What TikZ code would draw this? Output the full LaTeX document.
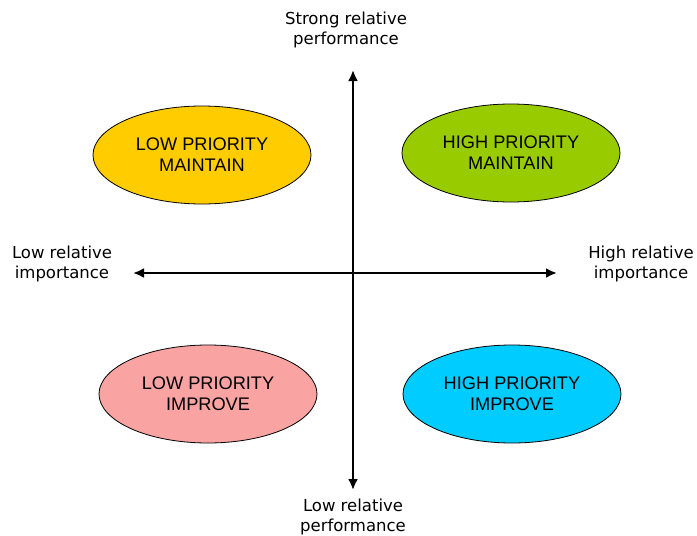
\documentclass[tikz,border=0pt]{standalone}
\usepackage{fontspec}
\setmainfont{Liberation Sans}
\newfontfamily\axisfont{DejaVu Sans}
\usetikzlibrary{shapes.geometric,arrows.meta}
\definecolor{lowmaint}{HTML}{FFCC00}
\definecolor{highmaint}{HTML}{99CC00}
\definecolor{lowimp}{HTML}{F9A3A3}
\definecolor{highimp}{HTML}{00CCFF}
\begin{document}
\begin{tikzpicture}[x=1pt,y=-1pt,
  quad/.style={ellipse,draw=black,line width=0.8pt,minimum width=218pt,minimum height=98pt,
    inner sep=0pt,align=center,font=\fontsize{18.2}{21}\selectfont},
  axislabel/.style={align=center,inner sep=0pt,font=\axisfont\fontsize{16.5}{20}\selectfont},
  axisline/.style={line width=2.5pt,-{Latex[length=11pt,width=10pt]}}]
\useasboundingbox (0,0) rectangle (697,536);
% four quadrant ellipses
\node[quad,fill=lowmaint]  (lm) at (202,155) {LOW PRIORITY\\MAINTAIN};
\node[quad,fill=highmaint] (hm) at (511,153) {HIGH PRIORITY\\MAINTAIN};
\node[quad,fill=lowimp]    (li) at (208,394) {LOW PRIORITY\\IMPROVE};
\node[quad,fill=highimp]   (hi) at (512,394) {HIGH PRIORITY\\IMPROVE};
% axes
\coordinate (c) at (353,273);
\coordinate (top) at (353,70);
\coordinate (bot) at (353,490);
\coordinate (lft) at (133,273);
\coordinate (rgt) at (557,273);
\draw[axisline] (c) -- (top);
\draw[axisline] (c) -- (bot);
\draw[axisline] (c) -- (lft);
\draw[axisline] (c) -- (rgt);
% axis labels
\node[axislabel] (tl) at (346,30) {Strong relative\\performance};
\node[axislabel] (bl) at (353,517) {Low relative\\performance};
\node[axislabel] (ll) at (62,264) {Low relative\\importance};
\node[axislabel] (rl) at (641,264) {High relative\\importance};
\end{tikzpicture}
\end{document}
